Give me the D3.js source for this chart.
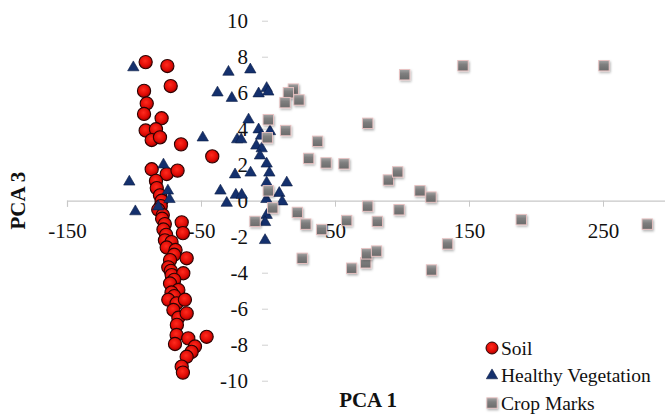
<!DOCTYPE html>
<html>
<head>
<meta charset="utf-8">
<script src="https://cdn.jsdelivr.net/npm/d3@7"></script>
<style>
  html, body { margin: 0; padding: 0; background: #fff; }
  svg { display: block; font-family: "Liberation Serif", "Times New Roman", serif; }
</style>
</head>
<body>
<div id="chart"></div>
<script>
const width = 665;
const height = 414;

// PCA 1 / PCA 3 scores
const soil = [
  [-91.3, 7.7], [-75.1, 7.48], [-72.6, 6.37], [-92.5, 6.1], [-90.5, 5.4],
  [-92.5, 4.82], [-79.4, 4.58], [-91.3, 3.9], [-83.6, 3.97], [-86.8, 3.37],
  [-80.6, 3.52], [-64.9, 3.13], [-41.6, 2.46], [-86.8, 1.75], [-75.6, 1.48],
  [-67.5, 1.67], [-83.6, 1.1], [-83, 0.7], [-80.6, 0.3], [-79.4, 0.0],
  [-80, -0.3], [-81.9, -0.5], [-78.5, -0.8], [-79, -1.0], [-77, -1.3],
  [-78, -1.6], [-64.4, -1.2], [-63.5, -1.8], [-76, -1.9], [-76.9, -2.2],
  [-72, -2.3], [-75.6, -2.6], [-69, -2.74], [-70, -3.0], [-60.7, -3.2],
  [-73.1, -3.3], [-74.4, -3.7], [-72.5, -3.9], [-71.9, -4.13], [-63.2, -4.03],
  [-70, -4.4], [-73.1, -4.6], [-66.9, -4.96], [-72, -5.1], [-70, -5.3],
  [-74.4, -5.5], [-68.2, -5.7], [-62, -5.5], [-70.6, -6.07], [-66.9, -6.5],
  [-60.7, -6.26], [-68, -6.9], [-68.2, -7.46], [-69.4, -7.96], [-59.5, -7.65],
  [-45.8, -7.56], [-54.5, -8.1], [-57, -8.4], [-60.7, -8.67], [-64.4, -9.22],
  [-63.5, -9.55]
];

const vegetation = [
  [-100.5, 7.4], [-29.5, 7.15], [-13.2, 7.28], [-37.7, 6.0], [-27, 5.7],
  [-7, 5.95], [-1, 6.25], [0.2, 6.05], [-14.5, 4.5], [-7, 3.95],
  [-5.2, 3.6], [1.5, 3.85], [-48.7, 3.5], [-23, 3.4], [-20, 3.4],
  [-8.7, 3.05], [-4.7, 2.9], [-6, 2.5], [-1, 2.05], [1, 1.55],
  [-24.6, 1.45], [-13, 1.55], [-78, 2.0], [-103.5, 1.05], [-1, 1.0],
  [14, 1.0], [-74.7, 0.55], [-35.5, 0.55], [-24, 0.32], [-19.6, 0.32],
  [8.4, 0.42], [10.6, -0.05], [-73.5, 0.08], [-30.8, -0.13], [-1.2, 0.08],
  [-81.9, -0.33], [-99, -0.6], [-1, -0.8], [-2.2, -1.2], [-2.2, -2.2]
];

const cropMarks = [
  [145.5, 7.5], [250.7, 7.5], [102, 7.0], [18.9, 6.2], [15.2, 6.0],
  [12.7, 5.45], [23.1, 5.6], [0.2, 4.5], [74.4, 4.3], [13.2, 3.9],
  [-0.5, 3.5], [37, 3.3], [30.3, 2.35], [43.3, 2.1], [56.7, 2.05],
  [89.8, 1.15], [96.8, 1.6], [113.4, 0.55], [121.6, 0.2], [0.2, 0.55],
  [3.5, -0.4], [21.9, -0.65], [74.4, -0.3], [97.8, -0.5], [28.2, -1.3],
  [-9.7, -1.15], [58.7, -1.1], [81.6, -1.15], [40, -1.6], [189, -1.05],
  [283, -1.3], [134, -2.4], [25.5, -3.2], [62.4, -3.75], [72.9, -3.45],
  [73.6, -2.95], [81, -2.8], [122, -3.85]
];

const xTicks = [-150, -50, 50, 150, 250];
const yTicks = [-10, -8, -6, -4, -2, 0, 2, 4, 6, 8, 10];
const seriesNames = ["Soil", "Healthy Vegetation", "Crop Marks"];

const x = d3.scaleLinear().domain([-150, 300]).range([67, 670]);
const y = d3.scaleLinear().domain([-10, 10]).range([380.7, 20.7]);

// plain hyphen for negatives, like the source chart
const plainNumber = (d) => String(d);

const svg = d3.select("#chart")
  .append("svg")
  .attr("width", width)
  .attr("height", height);

const defs = svg.append("defs");

const redGrad = defs.append("radialGradient")
  .attr("id", "redBall")
  .attr("cx", "45%").attr("cy", "40%").attr("r", "60%");
redGrad.append("stop").attr("offset", "0%").attr("stop-color", "#ff2b1e");
redGrad.append("stop").attr("offset", "65%").attr("stop-color", "#e00b05");
redGrad.append("stop").attr("offset", "100%").attr("stop-color", "#9c0000");

const greyGrad = defs.append("linearGradient")
  .attr("id", "greyBox")
  .attr("x1", 0).attr("y1", 0).attr("x2", 0).attr("y2", 1);
greyGrad.append("stop").attr("offset", "0%").attr("stop-color", "#a3a3a3");
greyGrad.append("stop").attr("offset", "40%").attr("stop-color", "#7e7e7e");
greyGrad.append("stop").attr("offset", "100%").attr("stop-color", "#6b6b6b");

const shadow = defs.append("filter").attr("id", "shadow")
  .attr("x", "-50%").attr("y", "-50%").attr("width", "200%").attr("height", "200%");
shadow.append("feDropShadow")
  .attr("dx", 1).attr("dy", 1.5).attr("stdDeviation", 1)
  .attr("flood-color", "#000").attr("flood-opacity", 0.3);

// horizontal axis crossing at PCA 3 = 0
const xAxis = d3.axisBottom(x)
  .tickValues(xTicks)
  .tickSize(6)
  .tickFormat(plainNumber);

const gx = svg.append("g")
  .attr("transform", `translate(0,${y(0)})`)
  .call(xAxis);
gx.select(".domain").attr("stroke", "#c8c8c8").attr("stroke-width", 1.2);
gx.selectAll(".tick line").attr("stroke", "#c8c8c8");
gx.selectAll(".tick text")
  .attr("y", 22)
  .attr("font-family", "Liberation Serif, serif")
  .attr("font-size", 21)
  .attr("fill", "#111");

// vertical axis crossing at PCA 1 = 0, no visible line
const yAxis = d3.axisLeft(y)
  .tickValues(yTicks)
  .tickSize(6)
  .tickFormat(plainNumber);

const gy = svg.append("g")
  .attr("transform", `translate(${x(0)},0)`)
  .call(yAxis);
gy.select(".domain").remove();
gy.selectAll(".tick line").attr("stroke", "#d0d0d0");
gy.selectAll(".tick text")
  .attr("x", -20)
  .attr("font-family", "Liberation Serif, serif")
  .attr("font-size", 21)
  .attr("fill", "#111");

// axis titles
svg.append("text")
  .attr("x", 368)
  .attr("y", 407)
  .attr("text-anchor", "middle")
  .attr("font-size", 21)
  .attr("font-weight", "bold")
  .attr("fill", "#111")
  .text("PCA 1");

svg.append("text")
  .attr("transform", `translate(25,${y(0)}) rotate(-90)`)
  .attr("text-anchor", "middle")
  .attr("font-size", 21)
  .attr("font-weight", "bold")
  .attr("fill", "#111")
  .text("PCA 3");

// marker drawers
const triangle = d3.symbol().type(d3.symbolTriangle).size(56);

function drawSoil(g) {
  g.append("circle")
    .attr("r", 6.6)
    .attr("fill", "url(#redBall)")
    .attr("stroke", "#2a0303")
    .attr("stroke-width", 1.1);
}

function drawVegetation(g) {
  g.append("path")
    .attr("d", triangle)
    .attr("fill", "#14306d")
    .attr("stroke", "#0b1c45")
    .attr("stroke-width", 0.6);
}

function drawCrop(g) {
  g.append("rect")
    .attr("x", -5.2).attr("y", -5.2)
    .attr("width", 10.4).attr("height", 10.4)
    .attr("fill", "url(#greyBox)")
    .attr("stroke", "#e9c2c2")
    .attr("stroke-width", 0.9)
    .attr("filter", "url(#shadow)");
}

const drawers = [drawSoil, drawVegetation, drawCrop];

[soil, vegetation, cropMarks].forEach((series, i) => {
  svg.append("g")
    .selectAll("g")
    .data(series)
    .join("g")
    .attr("transform", (d) => `translate(${x(d[0])},${y(d[1])})`)
    .each(function () {
      drawers[i](d3.select(this));
    });
});

// legend
const legend = svg.append("g").attr("transform", "translate(492,348)");
seriesNames.forEach((name, i) => {
  const item = legend.append("g").attr("transform", `translate(0,${i * 27.5})`);
  const marker = item.append("g");
  if (i === 0) {
    marker.append("circle").attr("r", 6).attr("fill", "url(#redBall)")
      .attr("stroke", "#2a0303").attr("stroke-width", 1);
  } else {
    drawers[i](marker);
  }
  item.append("text")
    .attr("x", 9)
    .attr("y", 6.5)
    .attr("font-size", 19.5)
    .attr("fill", "#111")
    .text(name);
});
</script>
</body>
</html>
